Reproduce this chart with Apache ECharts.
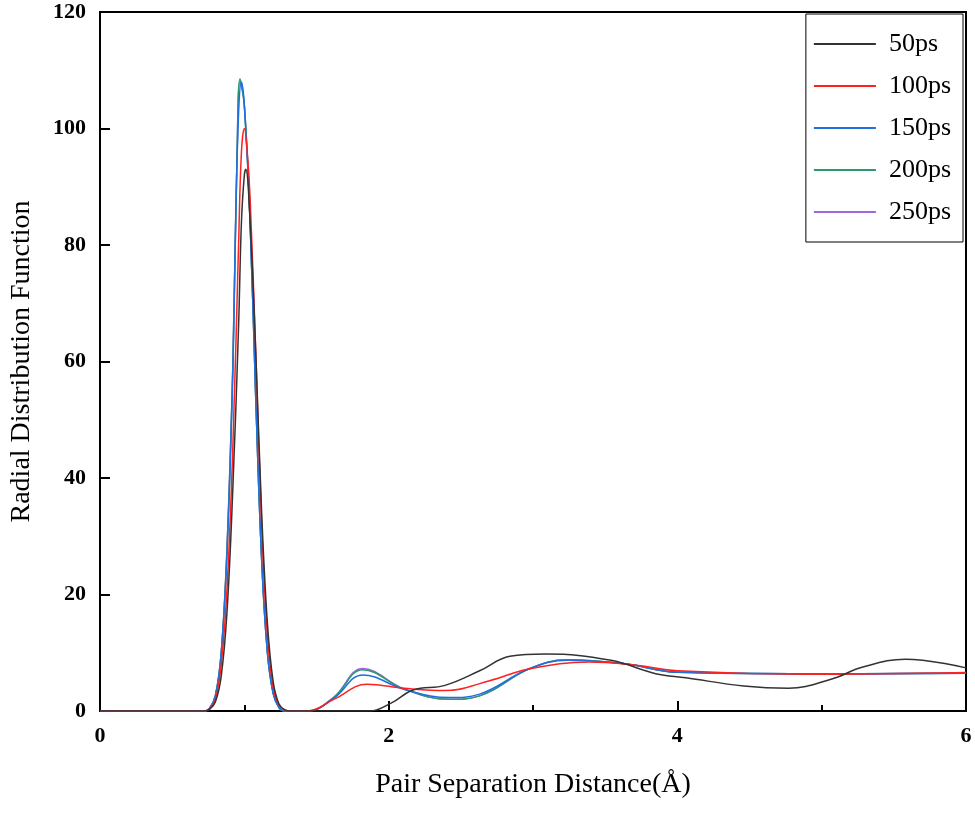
<!DOCTYPE html>
<html><head><meta charset="utf-8">
<script src="https://cdn.jsdelivr.net/npm/echarts@6/dist/echarts.min.js"></script>
<style>body{margin:0}#c{width:975px;height:814px}</style></head>
<body><div id="c"></div>
<script>
const seriesNames = ['50ps','100ps','150ps','200ps','250ps'];
const colors = ['#333333','#ff2020','#1f6fe0','#2a9a6a','#a466e0'];
const xTicks = [0,2,4,6];
const d50 = [[0,0],[0.72,0],[0.76,0.3],[0.8,1.6],[0.84,6],[0.88,17],[0.92,38],[0.96,66],[0.98,84],[1.0,92],[1.01,93],[1.04,84],[1.08,61],[1.12,34],[1.16,15],[1.2,5],[1.24,1.2],[1.28,0.2],[1.32,0],[1.87,0],[2.02,1.4],[2.17,3.6],[2.39,4.4],[2.63,6.9],[2.84,9.4],[3.09,9.8],[3.54,8.7],[3.85,6.4],[4.06,5.7],[4.46,4.3],[4.77,3.9],[5.07,5.5],[5.28,7.5],[5.58,8.9],[6.0,7.4]];
const d100 = [[0,0],[0.72,0],[0.76,0.4],[0.8,2],[0.84,8],[0.88,21],[0.92,45],[0.96,80],[0.98,96],[1.0,100],[1.02,96],[1.04,88],[1.08,61],[1.12,32],[1.16,13],[1.2,4],[1.24,1],[1.28,0.2],[1.32,0],[1.44,0],[1.62,2],[1.85,4.6],[2.11,3.9],[2.39,3.5],[2.7,5.2],[2.97,7.2],[3.39,8.4],[3.7,7.9],[4.0,6.9],[4.9,6.3],[6.0,6.6]];
const d150 = [[0,0],[0.72,0],[0.76,0.5],[0.8,2.6],[0.84,10],[0.88,27],[0.92,58],[0.95,95],[0.98,108],[1.0,104],[1.04,84],[1.08,53],[1.12,26],[1.16,10],[1.2,3],[1.24,0.6],[1.28,0],[1.44,0],[1.62,2.2],[1.82,6.2],[2.11,3.7],[2.42,2.3],[2.63,2.9],[2.97,7.2],[3.24,8.7],[3.64,8.1],[4.0,6.65],[4.92,6.4],[6.0,6.5]];
const d200 = [[0,0],[0.72,0],[0.76,0.5],[0.8,2.7],[0.84,10],[0.88,28],[0.92,59],[0.95,96],[0.97,108.5],[1.0,104],[1.04,84],[1.08,53],[1.12,26],[1.16,10],[1.2,3],[1.24,0.6],[1.28,0],[1.44,0],[1.62,2.3],[1.82,7.1],[2.11,3.75],[2.42,2.0],[2.63,2.6],[2.97,7.2],[3.24,8.8],[3.64,8.1],[4.0,6.65],[4.92,6.4],[6.0,6.5]];
const d250 = [[0,0],[0.72,0],[0.76,0.5],[0.8,2.7],[0.84,10],[0.88,28],[0.92,59],[0.95,96],[0.97,108],[1.0,104],[1.04,84],[1.08,53],[1.12,26],[1.16,10],[1.2,3],[1.24,0.6],[1.28,0],[1.44,0],[1.62,2.4],[1.82,7.3],[2.11,3.75],[2.42,2.0],[2.63,2.6],[2.97,7.2],[3.24,8.8],[3.64,8.1],[4.0,6.65],[4.92,6.4],[6.0,6.5]];
const allData = [d50,d100,d150,d200,d250];
const font = 'Liberation Serif';
const chart = echarts.init(document.getElementById('c'));
chart.setOption({
  animation:false,
  grid:{left:98,right:9,top:12,bottom:103,show:true,borderColor:'#000',borderWidth:2},
  legend:{orient:'vertical',right:12,top:14,itemWidth:62,itemHeight:2,itemGap:14,padding:[16,12,16,8],
    borderColor:'#000',borderWidth:1,backgroundColor:'#fff',
    textStyle:{fontFamily:font,fontSize:26,color:'#000',padding:[0,0,0,8],lineHeight:28},
    icon:'rect',data:seriesNames},
  xAxis:{type:'value',min:0,max:6,interval:2,name:'Pair Separation Distance(Å)',nameLocation:'middle',nameGap:60,
    nameTextStyle:{fontFamily:font,fontSize:28,color:'#000'},
    axisLine:{lineStyle:{color:'#000',width:2}},
    axisTick:{inside:true,length:10,lineStyle:{width:2}},
    minorTick:{show:true,splitNumber:2,length:6,lineStyle:{color:'#000',width:2}},
    axisLabel:{fontFamily:font,fontSize:22,fontWeight:'bold',color:'#000',margin:14},
    splitLine:{show:false}},
  yAxis:{type:'value',min:0,max:120,interval:20,name:'Radial Distribution Function',nameLocation:'middle',nameGap:64,
    nameTextStyle:{fontFamily:font,fontSize:28,color:'#000'},
    axisLine:{show:true,lineStyle:{color:'#000',width:2}},
    axisTick:{show:true,inside:true,length:10,lineStyle:{width:2}},
    minorTick:{show:false},
    axisLabel:{fontFamily:font,fontSize:22,fontWeight:'bold',color:'#000',margin:14},
    splitLine:{show:false}},
  series:seriesNames.map((n,i)=>({name:n,type:'line',data:allData[i],smooth:0.4,showSymbol:false,
    lineStyle:{color:colors[i],width:1.5},itemStyle:{color:colors[i]},z:10-i}))
});
</script></body></html>
